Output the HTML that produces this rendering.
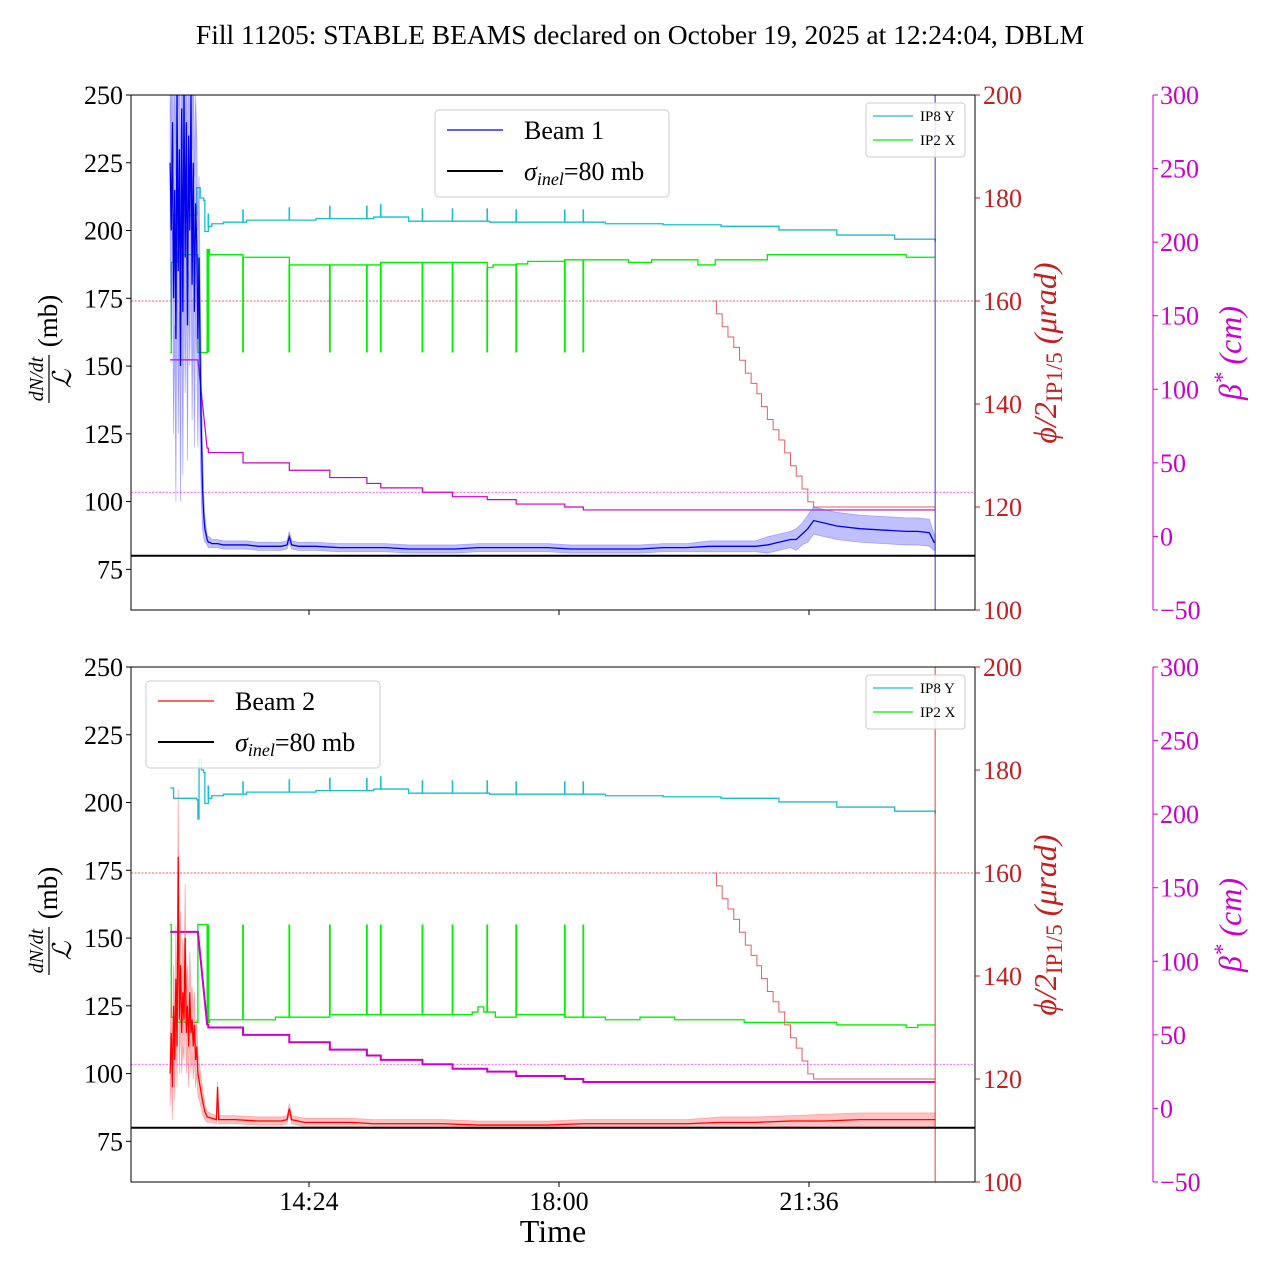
<!DOCTYPE html>
<html><head><meta charset="utf-8"><style>
body{margin:0;background:#fff;}
svg{display:block;font-family:"Liberation Serif",serif;}
</style></head><body>
<svg id="c" width="1280" height="1280" viewBox="0 0 1280 1280" xmlns="http://www.w3.org/2000/svg">
<text x="640" y="44" font-size="27.5" text-anchor="middle">Fill 11205: STABLE BEAMS declared on October 19, 2025 at 12:24:04, DBLM</text>
</svg>
<script>
// ---- data (time in minutes after 12:00) ----
const xTickLabels = ["14:24","18:00","21:36"];
const xTickTimes = [144,360,576];
const leftTicks = [75,100,125,150,175,200,225,250];
const phiTicks = [100,120,140,160,180,200];
const betaTicks = [-50,0,50,100,150,200,250,300];
const spikeTimes = [57,87,127,162,194,206,242,268,298,323,365,381];
const beam1 = [[24,225,30],[25,200,40],[26,240,40],[27,175,50],[28,215,50],[29,160,60],[30,250,50],[31,185,60],[32,230,60],[33,150,50],[34,245,60],[35,170,60],[36,250,60],[37,190,50],[38,240,50],[39,165,50],[40,235,50],[41,200,50],[42,250,50],[43,180,50],[44,225,50],[45,170,50],[46,210,40],[47,195,40],[48,160,40],[49,190,30],[50,150,30],[51,125,25],[52,105,15],[53,95,8],[54,90,5],[55,88,3],[56,86,2],[57,85,2],[58,85,2],[60,84.5,1.5],[65,84.5,1.5],[70,84,1.5],[80,84,1.5],[90,84,1.5],[100,83.5,1.5],[110,83.5,1.5],[120,83.5,1.5],[125,84,1.5],[127,87,2],[129,84,1.5],[135,83.5,1.5],[150,83.5,1.5],[170,83,1.5],[190,83,1.5],[210,83,1.5],[230,82.5,1.5],[250,82.5,1.5],[270,82.5,1.5],[290,83,1.5],[310,83,1.5],[330,83,1.5],[350,83,1.5],[370,82.5,1.5],[390,82.5,1.5],[410,82.5,1.5],[430,82.5,1.5],[450,83,1.5],[470,83,1.5],[490,83.5,2],[510,83.5,2],[530,83.5,2],[540,84,3],[550,85,3],[560,86,3],[565,86,4],[570,88,4],[575,90,5],[580,93,5],[590,92,5],[600,91,5],[620,90,5],[640,89.5,5],[660,89,5],[670,89,5],[680,88.5,5],[684,85,3],[685,85,3]];
const beam2 = [[24,100,12],[25,115,15],[26,95,12],[27,125,15],[28,105,15],[29,135,20],[30,110,15],[31,180,25],[32,120,20],[33,140,20],[34,115,15],[35,130,20],[36,120,15],[37,150,20],[38,115,15],[39,125,15],[40,110,15],[41,130,15],[42,115,15],[43,120,12],[44,110,12],[45,118,12],[46,105,10],[47,110,10],[48,100,8],[50,95,6],[52,90,5],[54,86,3],[56,84,2],[60,83.5,1.5],[64,83,1.5],[65,95,2],[66,83,1.5],[80,83,1.5],[100,82.5,1.5],[120,82.5,1.5],[125,83,1.5],[127,87,2],[129,83,1.5],[140,82,1.5],[160,82,1.5],[180,82,1.5],[200,81.5,1.5],[230,81.5,1.5],[260,81.5,1.5],[290,81,1.5],[320,81,1.5],[350,81,1.5],[380,81.5,1.5],[410,81.5,1.5],[440,81.5,1.5],[470,81.5,1.5],[500,82,2],[530,82,2],[560,82.5,2],[590,82.5,2.5],[620,83,2.5],[650,83,2.5],[685,83,2.5]];
const cyanTop = [[24,176.7],[47,182],[50,180],[53,179.5],[54,173.5],[57,174.5],[60,175],[70,175.3],[90,175.7],[150,176],[200,176.3],[230,175.5],[300,175.3],[400,175],[450,174.8],[500,174.5],[550,173.8],[600,172.8],[650,172],[685,171.5]];
const cyanBot = [[24,176.5],[27,174.5],[47,174.2],[48,170.5],[49,182],[51,180],[53,179.5],[54,173.5],[57,174.5],[60,175],[70,175.3],[90,175.7],[150,176],[200,176.3],[230,175.5],[300,175.3],[400,175],[450,174.8],[500,174.5],[550,173.8],[600,172.8],[650,172],[685,171.5]];
const greenTop = [[24,150],[25,167.5],[30,169.5],[33,169],[48,150],[56,170],[58,169],[87,168.5],[127,167],[206,167.5],[280,167.5],[298,166.5],[303,167],[323,167.2],[333,167.7],[365,168],[420,167.5],[440,168],[480,167],[495,168],[540,169],[600,169],[660,168.5],[685,168.5]];
const greenBot = [[24,150],[25,132],[30,131],[33,131.5],[36,131],[48,150],[56,131],[58,131.5],[87,131.5],[115,132],[162,132.5],[268,132.5],[285,133],[290,134],[295,133],[305,132],[323,132.5],[365,132],[400,131.5],[430,132],[460,131.5],[520,131],[600,130.5],[660,130],[670,130.5],[685,130.5]];
const betaTop = [[24,120],[48,120],[56,60],[57,57],[87,50],[127,45],[162,40],[194,36],[206,33],[242,30],[268,27],[298,25],[323,22],[365,20],[381,18],[685,18]];
const betaBot = [[24,120],[48,120],[56,57],[57,55],[87,50],[127,45],[162,40],[194,36],[206,33],[242,30],[268,27],[298,25],[323,22],[365,20],[381,18],[685,18]];
const phiTimes = [492,496,501,506,511,516,521,526,531,535,540,545,550,555,560,565,570,575,580,685];
const phiValues = [160,157.5,155,153,151,148.5,146,144,142,139.5,137,135,133,130.5,128,126,123.5,121,120,120];

const NS="http://www.w3.org/2000/svg", svg=document.getElementById('c');
function el(tag,attrs,parent,txt){const e=document.createElementNS(NS,tag);for(const k in attrs)e.setAttribute(k,attrs[k]);if(txt!==undefined)e.textContent=txt;(parent||svg).appendChild(e);return e;}
const X0=131,X1=975;
const xs=t=>309+(t-144)*(250/216);

function panel(y0,name,beam,beamColor,bandColor,cyan,green,beta,betaW,legendX,legendY,beamLabel){
  const H=515,yb=y0+H;
  const yL=v=>yb-(v-60)*H/190, yP=v=>yb-(v-100)*H/100, yB=v=>yb-(v+50)*H/350;
  const g=el('g',{},svg);
  
  
  const clip=el('clipPath',{id:'cl'+y0},g);el('rect',{x:X0,y:y0,width:X1-X0,height:H},clip);
  const d=el('g',{'clip-path':'url(#cl'+y0+')'},g);
  const r1=el('line',{x1:X0,x2:X1,y1:yP(160),y2:yP(160),stroke:'#c33','stroke-width':0.8,'stroke-dasharray':'2,1.5'},d);
  
  
  const r2=el('line',{x1:X0,x2:X1,y1:yB(30),y2:yB(30),stroke:'#e3e','stroke-width':0.8,'stroke-dasharray':'2,1.5'},d);
  
  
  function step(arr,fy){let s='';arr.forEach((p,i)=>{const x=xs(p[0]),y=fy(p[1]);if(i==0)s='M'+x+','+y;else s+='H'+x+'V'+y;});return s;}
  function valAt(arr,t){let v=arr[0][1];for(const p of arr){if(p[0]<=t)v=p[1];}return v;}
  const c=el('path',{d:step(cyan,yP),fill:'none',stroke:'#17becf','stroke-width':1.3},d);
  
  
  spikeTimes.forEach(t=>{const v=valAt(cyan,t);const s=el('line',{x1:xs(t),x2:xs(t),y1:yP(v),y2:yP(v+2.5),stroke:'#17becf','stroke-width':1.6},d);
    
    });
  const gp=el('path',{d:step(green,yP),fill:'none',stroke:'#00ee00','stroke-width':1.3},d);
  
  
  spikeTimes.forEach(t=>{const v=valAt(green,t);const s=el('line',{x1:xs(t),x2:xs(t),y1:yP(v),y2:yP(150),stroke:'#00ee00','stroke-width':1.8},d);
    
    });
  let bs='M'+xs(beta[0][0])+','+yB(beta[0][1])+'L'+xs(beta[1][0])+','+yB(beta[1][1])+'L'+xs(beta[2][0])+','+yB(beta[2][1]);
  for(let i=3;i<beta.length;i++){bs+='H'+xs(beta[i][0])+'V'+yB(beta[i][1]);}
  const bp=el('path',{d:bs,fill:'none',stroke:'#c0c','stroke-width':betaW},d);
  
  
  let ps='';phiTimes.forEach((t,i)=>{ps+= i==0?'M'+xs(t)+','+yP(phiValues[i]):'H'+xs(t)+'V'+yP(phiValues[i]);});
  const pp=el('path',{d:ps,fill:'none',stroke:'#e06060','stroke-width':1},d);
  
  
  let up=beam.map((p,i)=>(i?'L':'M')+xs(p[0])+','+yL(p[1]+p[2])).join('');
  let lo=beam.slice().reverse().map(p=>'L'+xs(p[0])+','+yL(p[1]-p[2])).join('');
  const band=el('path',{d:up+lo+'Z',fill:bandColor,'fill-opacity':0.35,stroke:bandColor,'stroke-opacity':0.4,'stroke-width':0.8},d);
  
  
  const bl=el('path',{d:beam.map((p,i)=>(i?'L':'M')+xs(p[0])+','+yL(p[1])).join(''),fill:'none',stroke:beamColor,'stroke-width':1.3},d);
  
  
  const vl=el('line',{x1:xs(685),x2:xs(685),y1:y0,y2:yb,stroke:beamColor,'stroke-width':1,'stroke-opacity':0.8},d);
  
  
  const sl=el('line',{x1:X0,x2:X1,y1:yL(80),y2:yL(80),stroke:'#000','stroke-width':2},d);
  
  
  const fr=el('rect',{x:X0,y:y0,width:X1-X0,height:H,fill:'none',stroke:'#000','stroke-width':1},g);
  
  
  leftTicks.forEach(v=>{el('line',{x1:X0-5,x2:X0,y1:yL(v),y2:yL(v),stroke:'#000'},g);
    const t=el('text',{x:X0-8,y:yL(v)+9,'font-size':26,'text-anchor':'end'},g,v);
    
    });
  phiTicks.forEach(v=>{el('line',{x1:X1,x2:X1+5,y1:yP(v),y2:yP(v),stroke:'#c41e1e'},g);
    const t=el('text',{x:X1+8,y:yP(v)+9,'font-size':26,fill:'#c41e1e'},g,v);
    
    });
  el('line',{x1:1153,x2:1153,y1:y0,y2:yb,stroke:'#c0c','stroke-width':1},g);
  betaTicks.forEach(v=>{el('line',{x1:1153,x2:1158,y1:yB(v),y2:yB(v),stroke:'#c0c'},g);
    const t=el('text',{x:1160,y:yB(v)+9,'font-size':26,fill:'#c0c'},g,v<0?'\u2212'+(-v):v);
    
    });
  xTickTimes.forEach((t,i)=>{el('line',{x1:xs(t),x2:xs(t),y1:yb,y2:yb+5,stroke:'#000'},g);});
  const yl=el('g',{transform:'translate(55,'+(y0+262)+') rotate(-90)'},g);
  
  
  el('text',{x:-22,y:-12,'font-size':20,'font-style':'italic','text-anchor':'middle'},yl,'dN/dt');
  el('line',{x1:-46,x2:2,y1:-6,y2:-6,stroke:'#000','stroke-width':1.2},yl);
  el('text',{x:-22,y:16,'font-size':26,'font-style':'italic','text-anchor':'middle'},yl,'\u2112');
  el('text',{x:36,y:2,'font-size':27,'text-anchor':'middle'},yl,'(mb)');
  const pl=el('text',{transform:'translate(1056,'+(y0+258)+') rotate(-90)','font-size':32,fill:'#c41e1e','text-anchor':'middle','font-style':'italic'},g);
  
  
  pl.innerHTML='ϕ/2<tspan font-style="normal" font-size="23" dy="6">IP1/5</tspan><tspan dy="-6"> (μrad)</tspan>';
  const bt=el('text',{transform:'translate(1241,'+(y0+258)+') rotate(-90)','font-size':32,fill:'#c0c','text-anchor':'middle','font-style':'italic'},g);
  
  
  bt.innerHTML='β<tspan dy="-11" font-size="23">*</tspan><tspan dy="11"> (cm)</tspan>';
  const lg=el('g',{},g);
  
  
  el('rect',{x:legendX,y:legendY,width:234,height:87,rx:4,fill:'#fff','fill-opacity':0.85,stroke:'#ccc'},lg);
  el('line',{x1:legendX+12,x2:legendX+68,y1:legendY+20,y2:legendY+20,stroke:beamColor,'stroke-width':1.2},lg);
  el('text',{x:legendX+89,y:legendY+29,'font-size':26},lg,beamLabel);
  el('line',{x1:legendX+12,x2:legendX+68,y1:legendY+61,y2:legendY+61,stroke:'#000','stroke-width':2},lg);
  const st=el('text',{x:legendX+89,y:legendY+70,'font-size':26},lg);
  st.innerHTML='<tspan font-style="italic">σ</tspan><tspan font-style="italic" font-size="18" dy="5">inel</tspan><tspan dy="-5">=80 mb</tspan>';
  const sg=el('g',{},g);
  
  
  el('rect',{x:866,y:y0+8,width:99,height:54,rx:3,fill:'#fff','fill-opacity':0.85,stroke:'#ccc'},sg);
  el('line',{x1:873,x2:913,y1:y0+21,y2:y0+21,stroke:'#17becf','stroke-width':1.3},sg);
  el('text',{x:920,y:y0+26,'font-size':15},sg,'IP8 Y');
  el('line',{x1:873,x2:913,y1:y0+45,y2:y0+45,stroke:'#00ee00','stroke-width':1.3},sg);
  el('text',{x:920,y:y0+50,'font-size':15},sg,'IP2 X');
}
panel(95,'beam1-panel',beam1,'#0000ee','#4a4aff',cyanTop,greenTop,betaTop,1.2,435,110,'Beam 1');
panel(667,'beam2-panel',beam2,'#ff0000','#ff5050',cyanBot,greenBot,betaBot,2,146,681,'Beam 2');
xTickTimes.forEach((t,i)=>{const tx=el('text',{x:xs(t),y:1210,'font-size':26,'text-anchor':'middle'},svg,xTickLabels[i]);
  
  });
const xt=el('text',{x:553,y:1242,'font-size':32,'text-anchor':'middle'},svg,'Time');


</script>
</body></html>
